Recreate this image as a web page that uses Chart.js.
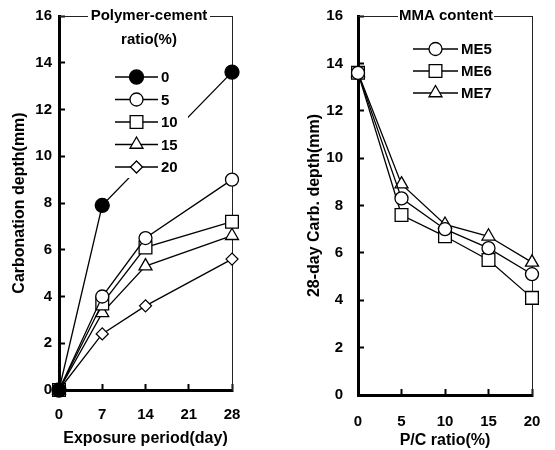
<!DOCTYPE html>
<html>
<head>
<meta charset="utf-8">
<script src="https://cdn.jsdelivr.net/npm/chart.js"></script>
<style>
  html, body { margin: 0; padding: 0; background: #fff; }
  #wrap { position: relative; width: 555px; height: 450px; }
  canvas { position: absolute; top: 0; }
</style>
</head>
<body>
<div id="wrap">
  <canvas id="left" width="278" height="450" style="left:0"></canvas>
  <canvas id="right" width="277" height="450" style="left:278px"></canvas>
</div>
<script>
// left panel: carbonation depth vs exposure period
var days0 = [0, 7, 28];
var days = [0, 7, 14, 28];
var pc0 = [0, 7.9, 13.6];
var pc5 = [0, 4.0, 6.5, 9.0];
var pc10 = [0, 3.7, 6.1, 7.2];
var pc15 = [0, 3.3, 5.3, 6.6];
var pc20 = [0, 2.4, 3.6, 5.6];

// right panel: 28-day depth vs P/C ratio
var pcRatio = [0, 5, 10, 15, 20];
var me5 = [13.6, 8.3, 7.0, 6.2, 5.1];
var me6 = [13.6, 7.6, 6.7, 5.7, 4.1];
var me7 = [13.6, 8.9, 7.2, 6.7, 5.6];

var FONT = "'Liberation Sans', Arial, sans-serif";

function pts(xs, ys) {
  return xs.map(function (x, i) { return { x: x, y: ys[i] }; });
}

function series(label, xs, ys, style, r, fill) {
  return {
    label: label,
    data: pts(xs, ys),
    borderColor: '#000',
    borderWidth: 1.3,
    pointStyle: style,
    pointRadius: r,
    pointBorderWidth: 1.3,
    pointBorderColor: '#000',
    pointBackgroundColor: fill || '#fff',
    clip: false
  };
}

function marker(ctx, style, x, y, r, fill) {
  ctx.beginPath();
  if (style === 'circle') ctx.arc(x, y, r, 0, Math.PI * 2);
  else if (style === 'rect') { var s = r * Math.SQRT1_2; ctx.rect(x - s, y - s, 2 * s, 2 * s); }
  else if (style === 'triangle') {
    ctx.moveTo(x, y - r); ctx.lineTo(x + r * 0.866, y + r / 2); ctx.lineTo(x - r * 0.866, y + r / 2); ctx.closePath();
  } else if (style === 'rectRot') {
    ctx.moveTo(x, y - r); ctx.lineTo(x + r, y); ctx.lineTo(x, y + r); ctx.lineTo(x - r, y); ctx.closePath();
  }
  ctx.fillStyle = fill; ctx.fill(); ctx.stroke();
}

// legend sitting on the top frame, with white background
var boxLegend = {
  id: 'boxLegend',
  afterDatasetsDraw: function (chart, args, o) {
    var ctx = chart.ctx;
    ctx.save();
    ctx.fillStyle = '#fff';
    o.clear.forEach(function (c) { ctx.fillRect(c[0], c[1], c[2], c[3]); });
    ctx.fillStyle = '#000';
    ctx.font = 'bold 15px ' + FONT;
    ctx.textAlign = 'center';
    ctx.textBaseline = 'middle';
    o.title.forEach(function (t, i) { ctx.fillText(t, o.titleX, o.titleY[i]); });
    ctx.strokeStyle = '#000';
    ctx.lineWidth = 1.3;
    ctx.textAlign = 'left';
    chart.data.datasets.forEach(function (ds, i) {
      var y = o.rowY + i * o.rowStep;
      ctx.beginPath(); ctx.moveTo(o.x1, y); ctx.lineTo(o.x2, y); ctx.stroke();
      marker(ctx, ds.pointStyle, (o.x1 + o.x2) / 2, y, ds.pointRadius, ds.pointBackgroundColor);
      ctx.fillStyle = '#000';
      ctx.fillText(ds.label, o.x2 + 3, y + 1);
    });
    ctx.restore();
  }
};

function noPad(s) { s.paddingTop = 0; s.paddingBottom = 0; s.paddingLeft = 0; s.paddingRight = 0; }

function axes(xMin, xMax, xStep, xTitle, yTitle, geo) {
  var tickFont = { family: FONT, size: 15, weight: 'bold' };
  var titleFont = { family: FONT, size: 16, weight: 'bold' };
  var inner = { display: true, drawOnChartArea: false, drawTicks: true, tickLength: -6, tickWidth: 2, tickColor: '#000' };
  return {
    x: {
      type: 'linear', position: 'bottom', min: xMin, max: xMax,
      afterFit: function (s) { s.height = geo.xh; noPad(s); },
      ticks: { stepSize: xStep, color: '#000', font: tickFont, padding: geo.xpad, maxRotation: 0 },
      grid: inner,
      border: { display: true, color: '#000', width: 3 },
      title: { display: true, text: xTitle, color: '#000', font: titleFont, padding: { top: 0, bottom: geo.xtb } }
    },
    y: {
      type: 'linear', position: 'left', min: 0, max: 16,
      afterFit: function (s) { s.width = geo.yw; noPad(s); },
      ticks: { stepSize: 2, color: '#000', font: tickFont, padding: geo.ypad },
      grid: inner,
      border: { display: true, color: '#000', width: 3 },
      title: { display: true, text: yTitle, color: '#000', font: titleFont, padding: { top: geo.ytp, bottom: 0 } }
    },
    x2: {
      type: 'linear', position: 'top', min: xMin, max: xMax,
      afterFit: function (s) { s.height = 0; noPad(s); },
      ticks: { display: false }, grid: { display: false },
      border: { display: true, color: '#222', width: 1 }
    },
    y2: {
      type: 'linear', position: 'right', min: 0, max: 16,
      afterFit: function (s) { s.width = 0; noPad(s); },
      ticks: { display: false }, grid: { display: false },
      border: { display: true, color: '#222', width: 1 }
    }
  };
}

new Chart(document.getElementById('left'), {
  type: 'line',
  data: {
    datasets: [
      series('0', days0, pc0, 'circle', 7, '#000'),
      series('5', days, pc5, 'circle', 6.5),
      series('10', days, pc10, 'rect', 9),
      series('15', days, pc15, 'triangle', 7.5),
      series('20', days, pc20, 'rectRot', 6)
    ]
  },
  options: {
    responsive: false,
    animation: false,
    layout: { padding: { left: 0, right: 46, top: 16, bottom: 0 } },
    scales: axes(0, 28, 7, 'Exposure period(day)', 'Carbonation depth(mm)',
      { xh: 60, xpad: 22, xtb: 2, yw: 59, ypad: 13, ytp: 10 }),
    plugins: {
      legend: { display: false },
      tooltip: { enabled: false },
      boxLegend: {
        clear: [[88, 6, 122, 20], [105, 58, 83, 120]],
        title: ['Polymer-cement', 'ratio(%)'], titleX: 149, titleY: [16, 40],
        rowY: 77, rowStep: 22.5, x1: 115, x2: 158
      }
    }
  },
  plugins: [boxLegend]
});

new Chart(document.getElementById('right'), {
  type: 'line',
  data: {
    datasets: [
      series('ME5', pcRatio, me5, 'circle', 6.5),
      series('ME6', pcRatio, me6, 'rect', 9),
      series('ME7', pcRatio, me7, 'triangle', 7.5)
    ]
  },
  options: {
    responsive: false,
    animation: false,
    layout: { padding: { left: 0, right: 23, top: 16, bottom: 0 } },
    scales: axes(0, 20, 5, 'P/C ratio(%)', '28-day Carb. depth(mm)',
      { xh: 55, xpad: 24, xtb: 0, yw: 80, ypad: 21, ytp: 27 }),
    plugins: {
      legend: { display: false },
      tooltip: { enabled: false },
      boxLegend: {
        clear: [[120, 6, 96, 20]],
        title: ['MMA content'], titleX: 168, titleY: [16],
        rowY: 49, rowStep: 22, x1: 135, x2: 180
      }
    }
  },
  plugins: [boxLegend]
});
</script>
</body>
</html>
